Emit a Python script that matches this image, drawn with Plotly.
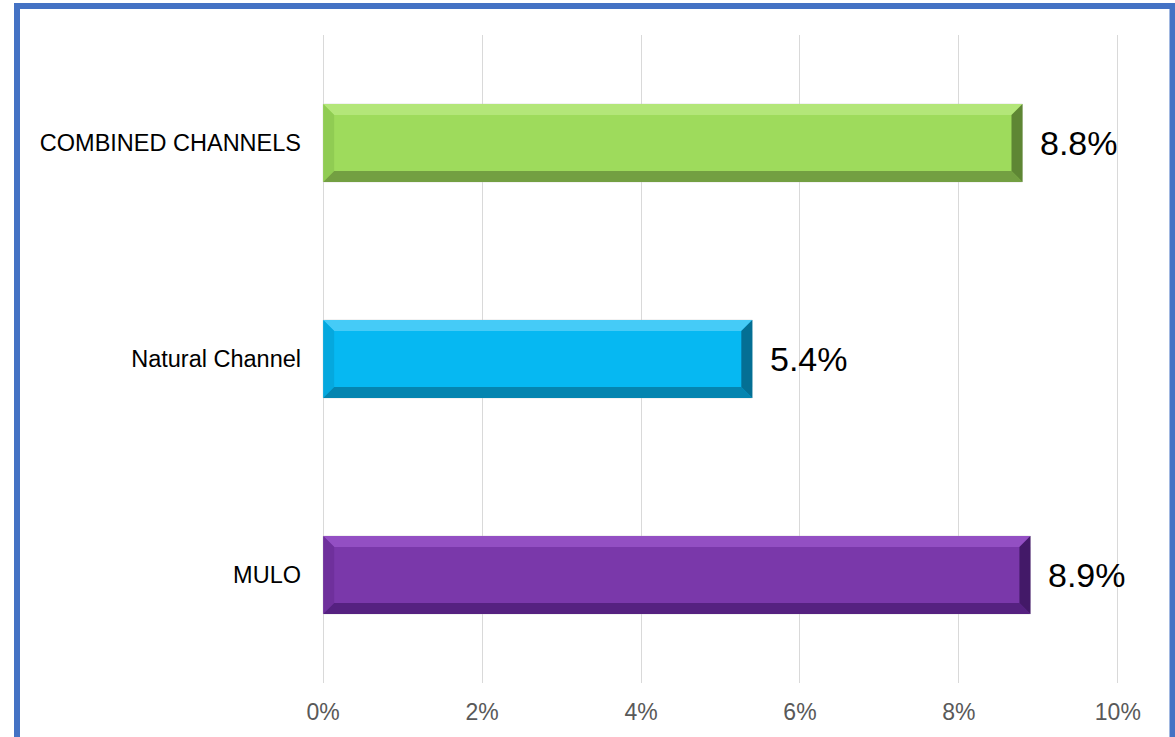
import plotly.graph_objects as go

# Growth by channel (shares as fractions)
categories = ["MULO", "Natural Channel", "COMBINED CHANNELS"]
values = [0.089, 0.054, 0.088]
tick_values = [0, 0.02, 0.04, 0.06, 0.08, 0.10]
tick_labels = ["0%", "2%", "4%", "6%", "8%", "10%"]

# Face colours and bevel tones per bar (light top, soft left, dark bottom/right)
face = ["#7A38AA", "#06B8F2", "#9EDB5C"]
top_tone = ["#934FC3", "#45CBF7", "#B3E679"]
left_tone = ["#6F309C", "#05A8DE", "#90CC53"]
bottom_tone = ["#552180", "#0585B0", "#739F42"]
right_tone = ["#431968", "#046F94", "#5E8634"]

W, H = 1175, 737
M_L, M_R, M_T, M_B = 322, 56, 35, 54
plot_w = W - M_L - M_R
plot_h = H - M_T - M_B
x_max = 0.10
bar_width = 0.36
bevel_px = 11

dx = bevel_px * x_max / plot_w          # bevel thickness in x data units
dy = bevel_px * len(categories) / plot_h  # bevel thickness in category units

fig = go.Figure(
    go.Bar(
        x=values,
        y=categories,
        orientation="h",
        width=bar_width,
        marker=dict(color=face, line=dict(color="rgba(200,200,200,0.6)", width=1)),
        hoverinfo="skip",
    )
)

shapes = []
for i, v in enumerate(values):
    y0, y1 = i - bar_width / 2, i + bar_width / 2
    # top highlight
    shapes.append(dict(type="path", xref="x", yref="y", layer="above",
                       path=f"M 0,{y1} L {v},{y1} L {v - dx},{y1 - dy} L {dx},{y1 - dy} Z",
                       fillcolor=top_tone[i], line=dict(width=0)))
    # left edge
    shapes.append(dict(type="path", xref="x", yref="y", layer="above",
                       path=f"M 0,{y0} L 0,{y1} L {dx},{y1 - dy} L {dx},{y0 + dy} Z",
                       fillcolor=left_tone[i], line=dict(width=0)))
    # bottom shade
    shapes.append(dict(type="path", xref="x", yref="y", layer="above",
                       path=f"M 0,{y0} L {v},{y0} L {v - dx},{y0 + dy} L {dx},{y0 + dy} Z",
                       fillcolor=bottom_tone[i], line=dict(width=0)))
    # right shade
    shapes.append(dict(type="path", xref="x", yref="y", layer="above",
                       path=f"M {v},{y0} L {v},{y1} L {v - dx},{y1 - dy} L {v - dx},{y0 + dy} Z",
                       fillcolor=right_tone[i], line=dict(width=0)))

# Outer blue frame around the chart area
fx0 = (17 - M_L) / plot_w
fx1 = (W - 2.5 - M_L) / plot_w
fy1 = (H - M_B - 6) / plot_h
fy0 = (H - M_B - (H + 10)) / plot_h
shapes.append(dict(type="rect", xref="paper", yref="paper",
                   x0=fx0, x1=fx1, y0=fy0, y1=fy1,
                   line=dict(color="#4472C4", width=6), fillcolor="rgba(0,0,0,0)"))

annotations = [
    dict(x=v, y=c, xref="x", yref="y", text=f"{v * 100:.1f}%", showarrow=False,
         xanchor="left", yanchor="middle", xshift=16,
         font=dict(family="Liberation Sans, Arial", size=34, color="#000000"))
    for c, v in zip(categories, values)
]

edge = x_max * 0.0015  # keeps the 0% and 10% gridlines inside the range

fig.update_layout(
    width=W, height=H,
    margin=dict(l=M_L, r=M_R, t=M_T, b=M_B, pad=0),
    paper_bgcolor="white", plot_bgcolor="white",
    showlegend=False,
    bargap=1 - bar_width,
    shapes=shapes,
    annotations=annotations,
    font=dict(family="Liberation Sans, Arial"),
    xaxis=dict(range=[-edge, x_max + edge], tickvals=tick_values, ticktext=tick_labels,
               showgrid=True, gridcolor="#D9D9D9", gridwidth=1.3,
               zeroline=False, showline=False,
               ticks="outside", ticklen=8, tickcolor="rgba(0,0,0,0)",
               tickfont=dict(size=23, color="#595959"),
               fixedrange=True),
    yaxis=dict(categoryorder="array", categoryarray=categories,
               range=[-0.5, len(categories) - 0.5],
               showgrid=False, zeroline=False, showline=False, ticks="",
               tickfont=dict(size=23.5, color="#000000"),
               ticklabelstandoff=20, fixedrange=True),
)

fig.write_html("out.html")
